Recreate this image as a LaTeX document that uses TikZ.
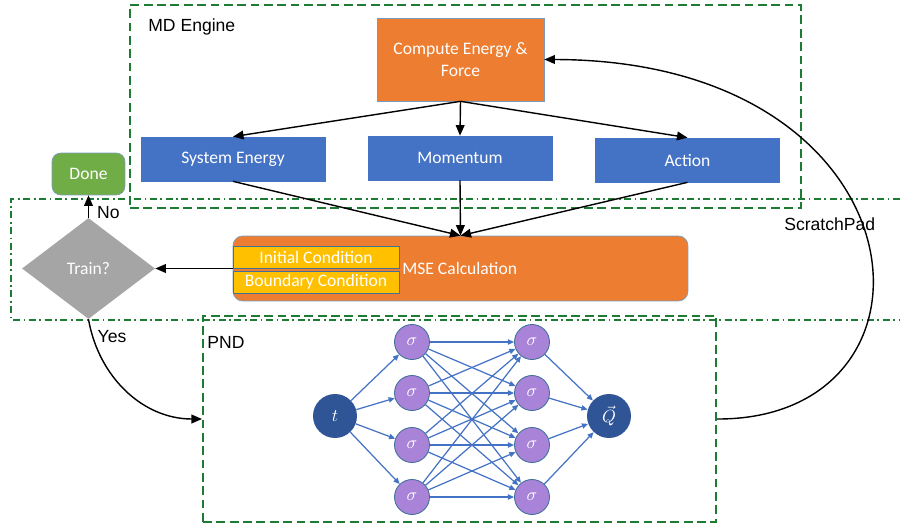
\documentclass[tikz,border=0pt]{standalone}
\usepackage{fontspec}
\setmainfont{Carlito}
\newfontfamily\labelfont{Liberation Sans}
\usetikzlibrary{shapes.geometric, arrows.meta, positioning}
\definecolor{boxorange}{HTML}{ED7D31}
\definecolor{boxblue}{HTML}{4472C4}
\definecolor{boxgreen}{HTML}{70AD47}
\definecolor{boxgray}{HTML}{A5A5A5}
\definecolor{boxyellow}{HTML}{FFC000}
\definecolor{edgeblue}{HTML}{41719C}
\definecolor{nodedark}{HTML}{2F5597}
\definecolor{nodepurple}{HTML}{A983D8}
\definecolor{groupgreen}{HTML}{1E7B34}
\tikzstyle{process} = [
    rectangle, 
    inner sep=0pt,
    text centered, 
    draw=edgeblue!70, 
    line width=0.4pt,
    text=white,
    font=\fontsize{10}{12.5}\selectfont
]
\tikzstyle{quantity} = [
    process,
    fill=boxblue, 
    draw=boxblue,
    minimum width=3.68cm, 
    minimum height=0.88cm
]
\tikzstyle{condition} = [
    process,
    fill=boxyellow, 
    draw=edgeblue,
    minimum width=3.32cm, 
    minimum height=0.44cm
]
\tikzstyle{decision} = [
    diamond, 
    inner sep=0pt,
    minimum width=2.66cm, 
    minimum height=2.02cm,
    text centered, 
    fill=boxgray,
    text=white,
    font=\fontsize{10}{12}\selectfont
]
\tikzstyle{group} = [
    rectangle,
    draw=groupgreen,
    line width=1.2pt,
    dash pattern=on 5pt off 2.6pt,
    inner sep=0pt
]
\tikzstyle{scratch} = [
    draw=groupgreen,
    line width=1.2pt,
    dash pattern=on 4pt off 2pt on 1pt off 2pt
]
\tikzstyle{grouplabel} = [anchor=west, inner sep=0pt, font=\labelfont\fontsize{10}{12}\selectfont]
\tikzstyle{neuron} = [circle, fill=nodepurple, draw=edgeblue, line width=0.5pt, minimum size=0.7cm, inner sep=0pt, text=white]
\tikzstyle{terminal} = [circle, fill=nodedark, minimum size=0.88cm, inner sep=0pt, text=white]
\tikzstyle{arrow} = [line width=0.8pt,-{Triangle[length=6pt,width=5pt]}]
\tikzstyle{link} = [draw=boxblue, line width=0.7pt,-{Triangle[length=3.5pt,width=3pt]}]

\begin{document}
\begin{tikzpicture}[x=0.02cm, y=-0.02cm]
\useasboundingbox (0,0) rectangle (900,527);

% Groups
\node (md) [group, minimum width=13.42cm, minimum height=4.06cm] at (465.5,106.5) {};
\node (mdlabel) [grouplabel] at (148,27) {MD Engine};
\draw [scratch] (900,199) -| (11,320) -- (900,320);
\node (pnd) [group, minimum width=10.26cm, minimum height=4.12cm] at (459.5,419) {};
\node (pndlabel) [grouplabel] at (207,342) {PND};
\node (padlabel) [grouplabel] at (784,224) {ScratchPad};

% Nodes
\node (compute) [process, fill=boxorange, minimum width=3.34cm, minimum height=1.66cm, align=center] at (460.5,59.5) {Compute Energy \&\\Force};
\node (energy) [quantity] at (233,159) {System Energy};
\node (momentum) [quantity] at (460,158) {Momentum};
\node (action) [quantity] at (687.5,160) {Action};
\node (mse) [process, fill=boxorange, rounded corners=5.5pt, minimum width=9.1cm, minimum height=1.3cm] at (460.5,268.5) {};
\node (msetext) [anchor=west, inner sep=0pt, text=white, font=\fontsize{10}{12}\selectfont] at (402,268.5) {MSE Calculation};
\node (initial) [condition] at (316,257) {Initial Condition};
\node (boundary) [condition] at (316,282) {Boundary Condition};
\node (train) [decision] at (88.5,268.5) {Train?};
\node (done) [process, fill=boxgreen, rounded corners=5pt, minimum width=1.46cm, minimum height=0.84cm] at (88.5,174) {Done};

% Network
\node (t) [terminal] at (335,416) {$t$};
\node (q) [terminal] at (609,416) {$\vec{Q}$};
\foreach \i/\y in {1/342,2/393,3/445,4/497} {
    \node (a\i) [neuron] at (412,\y) {$\sigma$};
    \node (b\i) [neuron] at (532,\y) {$\sigma$};
}
\foreach \i in {1,...,4} {
    \draw [link] (t) -- (a\i);
    \draw [link] (b\i) -- (q);
    \foreach \j in {1,...,4}
        \draw [link] (a\i) -- (b\j);
}

% Arrows
\draw [arrow] (compute.south) -- (energy.north);
\draw [arrow] (compute.south) -- (momentum.north);
\draw [arrow] (compute.south) -- (action.north);
\draw [arrow] (energy.south) -- (mse.north);
\draw [arrow] (momentum.south) -- (mse.north);
\draw [arrow] (action.south) -- (mse.north);
\draw [arrow] (mse.west) -- (train.east);
\draw [arrow] (train.north) -- node[grouplabel, pos=0.25, xshift=4.5pt] {No} (done.south);
\draw [arrow] (train.south) to[out=-80, in=180] node[grouplabel, pos=0.1, xshift=2.5pt] {Yes} (pnd.west);
\draw [arrow] (pnd.east) .. controls (960,420) and (930,60) .. (compute.east);

\end{tikzpicture}
\end{document}
